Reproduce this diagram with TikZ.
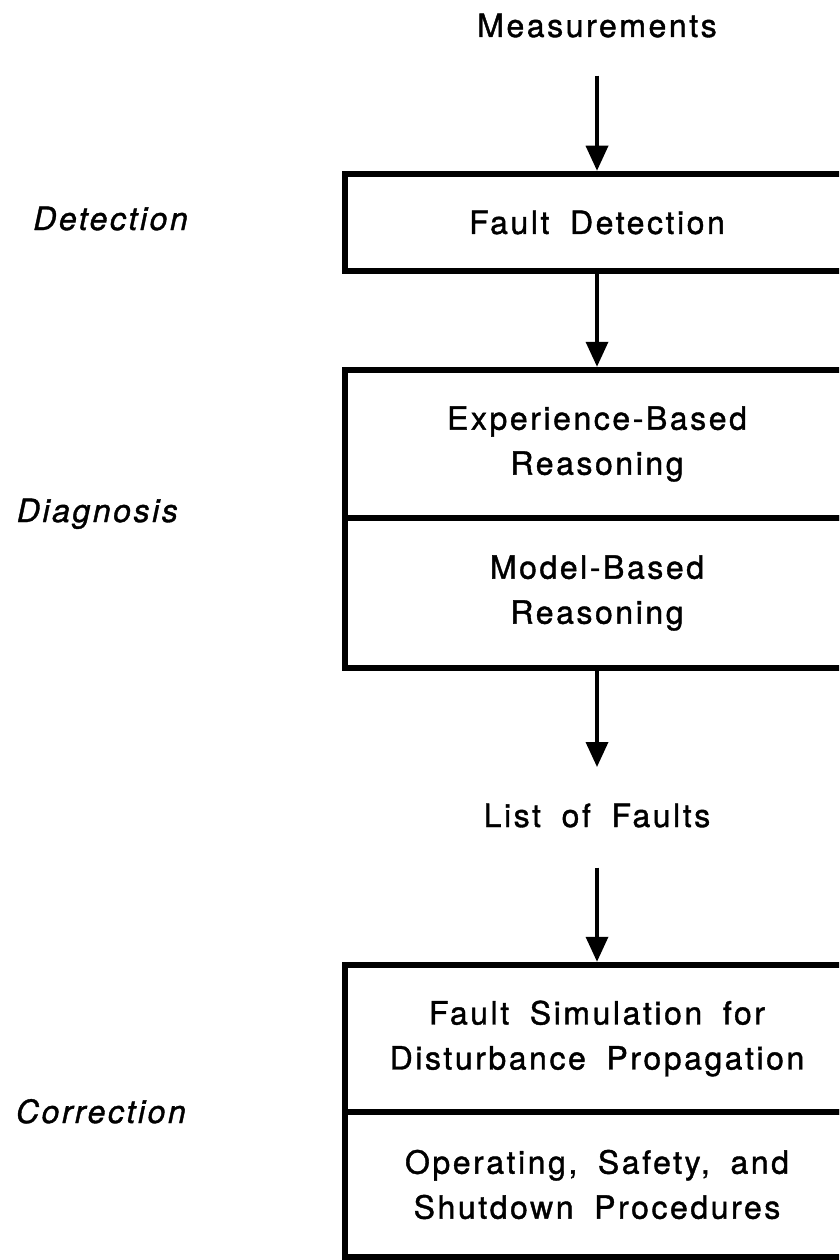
\documentclass[tikz,border=0pt]{standalone}
\usepackage{fontspec}
\setmainfont[LetterSpace=8,WordSpace=1.8,FakeBold=1.2]{TeX Gyre Heros}
\usepackage{tikz}
\usetikzlibrary{arrows.meta,positioning}

\begin{document}
\begin{tikzpicture}[x=1pt,y=-1pt,>={Triangle[length=25pt,width=22pt]},
  font=\fontsize{32}{45}\selectfont,
  stage/.style={draw,line width=6.5pt,minimum width=504pt,align=center,inner sep=0pt},
  tag/.style={inner sep=0pt,font=\fontsize{32}{45}\selectfont\itshape},
  flow/.style={->,line width=3.5pt}]
  \useasboundingbox (0,0) rectangle (839,1260);
  \clip (0,0) rectangle (839,1260);
  % flow column
  \node[inner sep=0pt,anchor=base] (meas) at (597,37) {Measurements};
  \node[stage,minimum height=97pt] (fd) at (597,222.5) {Fault Detection};
  \node[stage,minimum height=148pt] (exp) at (597,444) {Experience-Based\\Reasoning};
  \node[stage,minimum height=150pt] (mod) at (597,593) {Model-Based\\Reasoning};
  \coordinate (out) at (597,767);
  \node[inner sep=0pt,anchor=base] (faults) at (597,827) {List of Faults};
  \node[stage,minimum height=147pt] (sim) at (597,1038.5) {Fault Simulation for\\Disturbance Propagation};
  \node[stage,minimum height=145pt] (proc) at (597,1184.5) {Operating, Safety, and\\Shutdown Procedures};
  % stage names
  \node[tag,anchor=base east] (det) at (188,230) {Detection};
  \node[tag,anchor=base east] (diag) at (178,522) {Diagnosis};
  \node[tag,anchor=base east] (corr) at (186,1123) {Correction};
  % arrows
  \draw[flow,shorten <=38pt] (meas) -- (fd);
  \draw[flow] (fd) -- (exp);
  \draw[flow] (mod) -- (out);
  \draw[flow,shorten <=40pt] (faults) -- (sim);
\end{tikzpicture}
\end{document}
